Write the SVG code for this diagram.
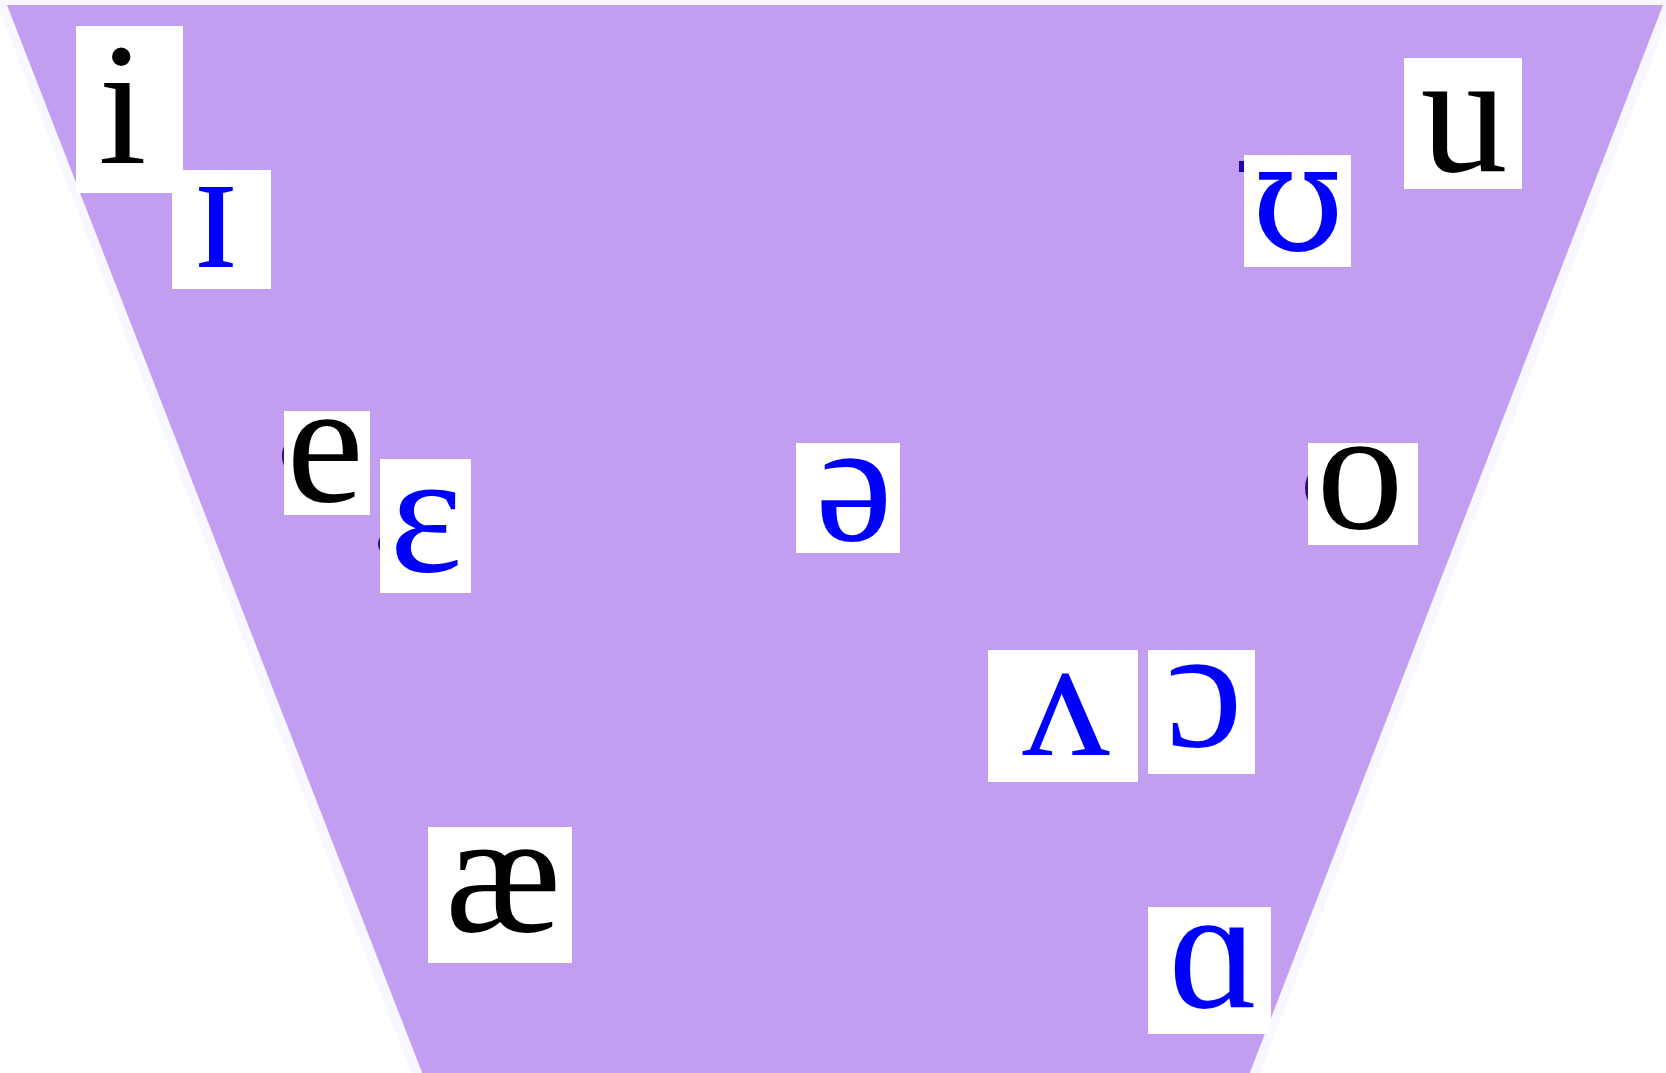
<svg xmlns="http://www.w3.org/2000/svg" width="1666" height="1073" viewBox="0 0 1666 1073">
  <style>
    .box { fill: #ffffff; }
    .v { font-family: "Liberation Serif", "DejaVu Serif", serif; font-size: 174px; text-anchor: middle; }
    .dj { font-family: "DejaVu Serif", "Liberation Serif", serif; font-size: 150px; }
    .blk { fill: #000000; }
    .blu { fill: #0000ff; }
    .mark { fill: #2e0b78; }
  </style>
  <rect x="0" y="0" width="1666" height="1073" fill="#ffffff"/>
  <g id="chart">
    <polygon points="-5,-2 1676,-2 1257,1080 414,1080" fill="#f8f6ff"/>
    <polygon points="7,5 1663,5 1247,1080 425,1080" fill="#c19ef0"/>
  </g>
  <g id="marks">
    <rect x="1239" y="161" width="7" height="11" fill="#2200aa"/>
    <ellipse class="mark" cx="289" cy="456" rx="7" ry="14"/>
    <ellipse class="mark" cx="384" cy="544" rx="6" ry="9"/>
    <ellipse class="mark" cx="1312" cy="488" rx="7" ry="15"/>
  </g>
  <g id="connectors"></g>
  <g id="node-i"><rect class="box" x="76" y="26" width="107" height="167"/><text class="v blk" x="122.5" y="163">i</text></g>
  <g id="node-near-i"><rect class="box" x="172" y="170" width="99" height="119"/><text class="v blu" x="216" y="267">ɪ</text></g>
  <g id="node-u"><rect class="box" x="1404" y="58" width="118" height="131"/><text class="v blk" x="1464" y="171">u</text></g>
  <g id="node-near-u"><rect class="box" x="1244" y="155" width="107" height="112"/><text class="v dj blu" x="1298" y="250">ʊ</text></g>
  <g id="node-e"><rect class="box" x="284" y="411" width="86" height="104"/><text class="v blk" x="325" y="501">e</text></g>
  <g id="node-open-e"><rect class="box" x="380" y="459" width="91" height="134"/><text class="v blu" x="426" y="571">ɛ</text></g>
  <g id="node-schwa"><rect class="box" x="796" y="443" width="104" height="110"/><text class="v blu" x="854" y="540">ə</text></g>
  <g id="node-o"><rect class="box" x="1308" y="443" width="110" height="102"/><text class="v blk" x="1360" y="528">o</text></g>
  <g id="node-wedge"><rect class="box" x="988" y="650" width="150" height="132"/><text class="v blu" x="1066" y="755">ʌ</text></g>
  <g id="node-open-o"><rect class="box" x="1148" y="650" width="107" height="124"/><text class="v blu" x="1204" y="746">ɔ</text></g>
  <g id="node-ae"><rect class="box" x="428" y="827" width="144" height="136"/><text class="v blk" x="503" y="931">æ</text></g>
  <g id="node-script-a"><rect class="box" x="1148" y="907" width="123" height="127"/><text class="v blu" x="1214" y="1007">ɑ</text></g>
</svg>
